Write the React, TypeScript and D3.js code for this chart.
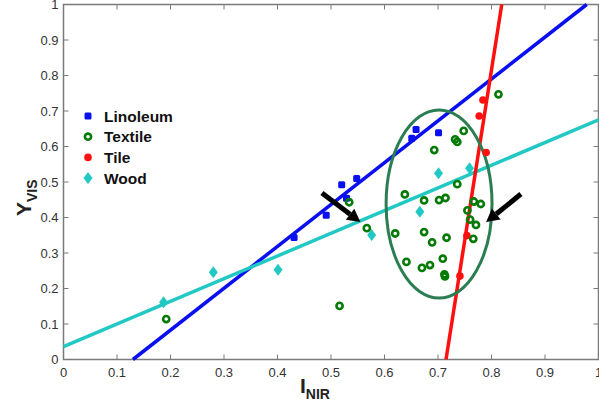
import React from "react";
import * as d3 from "d3";

const W = 599, H = 411;
const M = { left: 63.5, right: 598.5, top: 4.5, bottom: 359.5 };

const xTicks = [0, 0.1, 0.2, 0.3, 0.4, 0.5, 0.6, 0.7, 0.8, 0.9, 1];
const yTicks = [0, 0.1, 0.2, 0.3, 0.4, 0.5, 0.6, 0.7, 0.8, 0.9, 1];

const linoleumX = [0.431, 0.491, 0.520, 0.529, 0.548, 0.651, 0.659, 0.701];
const linoleumY = [0.344, 0.406, 0.492, 0.454, 0.510, 0.623, 0.648, 0.639];

const textileX = [0.192, 0.516, 0.534, 0.567, 0.813, 0.748, 0.732, 0.736, 0.693, 0.736, 0.638, 0.674, 0.702, 0.714, 0.767, 0.780, 0.755, 0.760, 0.771, 0.620, 0.674, 0.689, 0.716, 0.766, 0.641, 0.709, 0.670, 0.685, 0.712, 0.713];
const textileY = [0.114, 0.151, 0.443, 0.370, 0.747, 0.644, 0.620, 0.613, 0.590, 0.494, 0.465, 0.448, 0.449, 0.455, 0.445, 0.438, 0.420, 0.394, 0.379, 0.355, 0.359, 0.330, 0.343, 0.340, 0.275, 0.284, 0.258, 0.266, 0.240, 0.234];

const tileX = [0.784, 0.777, 0.790, 0.754, 0.741];
const tileY = [0.731, 0.686, 0.583, 0.349, 0.235];

const woodX = [0.187, 0.280, 0.401, 0.576, 0.666, 0.701, 0.759];
const woodY = [0.161, 0.246, 0.253, 0.351, 0.416, 0.525, 0.539];

// fitted lines: slope, intercept
const lineSeries = ["Linoleum", "Wood", "Tile"];
const lineSlopes = [1.179, 0.639, 9.6];
const lineIntercepts = [-0.153, 0.036, -6.864];

// ellipse (data units)
const ellipseCenter = [0.702, 0.438];
const ellipseRadii = [0.099, 0.265];

// arrows: [tailX, tailY, tipX, tipY]
const arrows = [
  [0.483, 0.469, 0.555, 0.387],
  [0.855, 0.466, 0.790, 0.387],
];

const legendNames = ["Linoleum", "Textile", "Tile", "Wood"];

const BLUE = "#0a0ff0";
const GREEN = "#067a06";
const RED = "#ff1010";
const CYAN = "#22c8c4";
const ELL = "#2b7d52";

export default function App() {
  const x = d3.scaleLinear().domain([0, 1]).range([M.left, M.right]);
  const y = d3.scaleLinear().domain([0, 1]).range([M.bottom, M.top]);

  const lineColors = [BLUE, CYAN, RED];
  const lineGen = d3.line<[number, number]>().x(d => x(d[0])).y(d => y(d[1]));

  const linePaths = lineSlopes.map((m, i) => {
    const b = lineIntercepts[i];
    const xa = (0 - b) / m, xb = (1 - b) / m;
    const x0 = Math.max(0, Math.min(xa, xb));
    const x1 = Math.min(1, Math.max(xa, xb));
    return lineGen([[x0, m * x0 + b], [x1, m * x1 + b]]) as string;
  });

  const diamond = (cx: number, cy: number, w = 4.5, h = 6) =>
    `M${cx},${cy - h}L${cx + w},${cy}L${cx},${cy + h}L${cx - w},${cy}Z`;

  const arrowShape = (a: number[]) => {
    const x1 = x(a[0]), y1 = y(a[1]), x2 = x(a[2]), y2 = y(a[3]);
    const ang = Math.atan2(y2 - y1, x2 - x1);
    const headL = 13, headW = 7;
    const bx = x2 - headL * Math.cos(ang), by = y2 - headL * Math.sin(ang);
    const px = -Math.sin(ang), py = Math.cos(ang);
    return {
      line: { x1, y1, x2: bx, y2: by },
      head: `M${x2},${y2}L${bx + px * headW},${by + py * headW}L${bx - px * headW},${by - py * headW}Z`,
    };
  };

  const tickColor = "#7a7a7a";
  const labelColor = "#333";

  return (
    <svg width={W} height={H} style={{ position: "absolute", left: 0, top: 0, background: "#fff" }}
      fontFamily="Arial, 'Liberation Sans', sans-serif">
      <rect x={0} y={0} width={W} height={H} fill="#fff" />
      <rect x={M.left} y={M.top} width={M.right - M.left} height={M.bottom - M.top}
        fill="none" stroke={tickColor} strokeWidth={1.5} />
      {xTicks.map((t, i) => (
        <g key={"xt" + i}>
          <line x1={x(t)} x2={x(t)} y1={M.bottom} y2={M.bottom - 5} stroke={tickColor} />
          <line x1={x(t)} x2={x(t)} y1={M.top} y2={M.top + 5} stroke={tickColor} />
          <text x={x(t)} y={M.bottom + 17} textAnchor="middle" fontSize={13} fill={labelColor}>{String(t)}</text>
        </g>
      ))}
      {yTicks.map((t, i) => (
        <g key={"yt" + i}>
          <line x1={M.left} x2={M.left + 5} y1={y(t)} y2={y(t)} stroke={tickColor} />
          <line x1={M.right} x2={M.right - 5} y1={y(t)} y2={y(t)} stroke={tickColor} />
          <text x={M.left - 5} y={y(t) + 4.5} textAnchor="end" fontSize={13} fill={labelColor}>{String(t)}</text>
        </g>
      ))}

      {linePaths.map((d, i) => (
        <path key={"l" + lineSeries[i]} d={d} stroke={lineColors[i]} strokeWidth={3.5} fill="none" />
      ))}

      <ellipse cx={x(ellipseCenter[0])} cy={y(ellipseCenter[1])}
        rx={x(ellipseRadii[0]) - x(0)} ry={y(0) - y(ellipseRadii[1])}
        fill="none" stroke={ELL} strokeWidth={3} />

      {woodX.map((v, i) => (
        <path key={"w" + i} d={diamond(x(v), y(woodY[i]))} fill={CYAN} />
      ))}
      {linoleumX.map((v, i) => (
        <rect key={"li" + i} x={x(v) - 3.5} y={y(linoleumY[i]) - 3.5} width={7} height={7} rx={1.5} fill={BLUE} />
      ))}
      {tileX.map((v, i) => (
        <circle key={"ti" + i} cx={x(v)} cy={y(tileY[i])} r={3.8} fill={RED} />
      ))}
      {textileX.map((v, i) => (
        <circle key={"te" + i} cx={x(v)} cy={y(textileY[i])} r={3.1} fill="none" stroke={GREEN} strokeWidth={2.6} />
      ))}

      {arrows.map((a, i) => {
        const s = arrowShape(a);
        return (
          <g key={"a" + i}>
            <line {...s.line} stroke="#000" strokeWidth={5} />
            <path d={s.head} fill="#000" />
          </g>
        );
      })}

      {legendNames.map((n, i) => {
        const cy = 116 + i * 20.7;
        const cx = 88;
        let marker: React.ReactNode = null;
        if (i === 0) marker = <rect x={cx - 3.5} y={cy - 3.5} width={7} height={7} rx={1.5} fill={BLUE} />;
        if (i === 1) marker = <circle cx={cx} cy={cy} r={3.1} fill="none" stroke={GREEN} strokeWidth={2.6} />;
        if (i === 2) marker = <circle cx={cx} cy={cy} r={3.8} fill={RED} />;
        if (i === 3) marker = <path d={diamond(cx, cy)} fill={CYAN} />;
        return (
          <g key={"lg" + n}>
            {marker}
            <text x={104} y={cy + 5.5} fontSize={15.5} fontWeight="bold" fill="#111">{n}</text>
          </g>
        );
      })}

      <text x={300} y={393} fontSize={21} fontWeight="bold" fill="#222">
        I<tspan fontSize={14} dy={6}>NIR</tspan>
      </text>
      <text transform="translate(31,216) rotate(-90)" fontSize={21} fontWeight="bold" fill="#222">
        Y<tspan fontSize={14} dy={6}>VIS</tspan>
      </text>
    </svg>
  );
}
